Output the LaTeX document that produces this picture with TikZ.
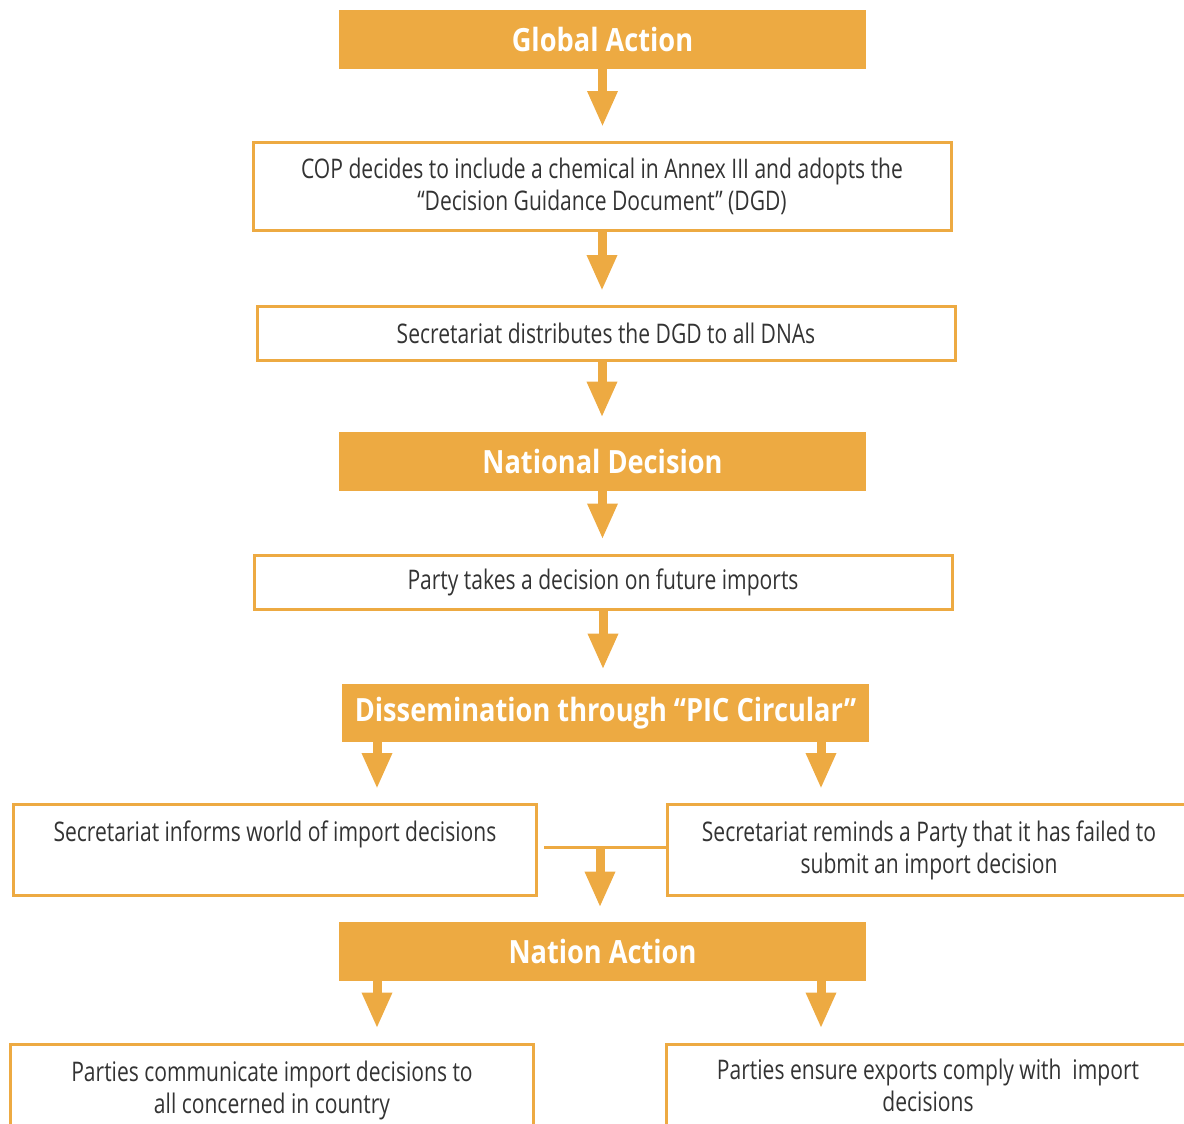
\documentclass[tikz,border=0pt]{standalone}
\usepackage{fontspec}
\setmainfont{Open Sans}[FakeStretch=0.78]
\newfontfamily\headfont{Open Sans}[FakeStretch=0.85,Ligatures=TeX]
\usetikzlibrary{arrows.meta}
\definecolor{picorange}{HTML}{EDAA42}
\definecolor{pictext}{HTML}{333333}
\def\headnode{\node[fill=picorange,text=white,font=\fontsize{16}{18}\selectfont\headfont\bfseries,minimum width=263.5pt,minimum height=29.5pt,inner sep=0pt]}
\def\stepnode{\node[draw=picorange,line width=1.5pt,text=pictext,font=\fontsize{13.5}{16}\selectfont,align=center,inner sep=0pt]}
\def\drawflow{\draw[color=picorange,line width=4.5pt,-{Triangle[width=14pt,length=18pt]},shorten >=7pt]}

\begin{document}
\begin{tikzpicture}[x=0.5pt,y=-0.5pt]
\useasboundingbox (0,0) rectangle (1184,1124);
% global action
\headnode (global) at (602.5,39.5) {Global Action};
\stepnode[minimum width=349pt,minimum height=44pt] (cop) at (602,186.5)
  {COP decides to include a chemical in Annex III and adopts the\\“Decision Guidance Document” (DGD)};
\stepnode[minimum width=349pt,minimum height=27pt] (dist) at (606,333.5)
  {Secretariat distributes the DGD to all DNAs};
% national decision
\headnode (natl) at (602.5,461.5) {National Decision};
\stepnode[minimum width=349pt,minimum height=27pt] (party) at (603,582)
  {Party takes a decision on future imports};
% dissemination
\headnode[minimum height=29pt] (diss) at (605.5,713) {Dissemination through “PIC Circular”};
\stepnode[minimum width=261.5pt,minimum height=45.5pt,text height=10pt,text depth=19pt] (informs) at (275,850)
  {Secretariat informs world of import decisions};
\stepnode[minimum width=261.5pt,minimum height=45.5pt] (reminds) at (929,850)
  {Secretariat reminds a Party that it has failed to\\submit an import decision};
% nation action
\headnode (nation) at (602.5,951.5) {Nation Action};
\stepnode[minimum width=261.5pt,minimum height=46pt] (comm) at (272,1090)
  {Parties communicate import decisions to\\all concerned in country};
\stepnode[minimum width=261.5pt,minimum height=46pt] (comply) at (928,1090)
  {Parties ensure exports comply with\ \ import\\decisions\strut};
% connectors
\drawflow (global.south) -- (global.south |- cop.north);
\drawflow (cop.south) -- (cop.south |- dist.north);
\drawflow (dist.south -| cop.south) -- (cop.south |- natl.north);
\drawflow (natl.south) -- (natl.south |- party.north);
\drawflow (party.south) -- (party.south |- diss.north);
\coordinate (leftx) at (377,0);
\coordinate (rightx) at (821,0);
\drawflow (diss.south -| leftx) -- (leftx |- informs.north);
\drawflow (diss.south -| rightx) -- (rightx |- reminds.north);
\coordinate (joinend) at (544,847);
\coordinate (joinmid) at (600,847);
\draw[color=picorange,line width=1.5pt] (joinend -| reminds.west) -- (joinend);
\drawflow (joinmid) -- (joinmid |- nation.north);
\drawflow (nation.south -| leftx) -- (leftx |- comm.north);
\drawflow (nation.south -| rightx) -- (rightx |- comply.north);
\end{tikzpicture}
\end{document}
